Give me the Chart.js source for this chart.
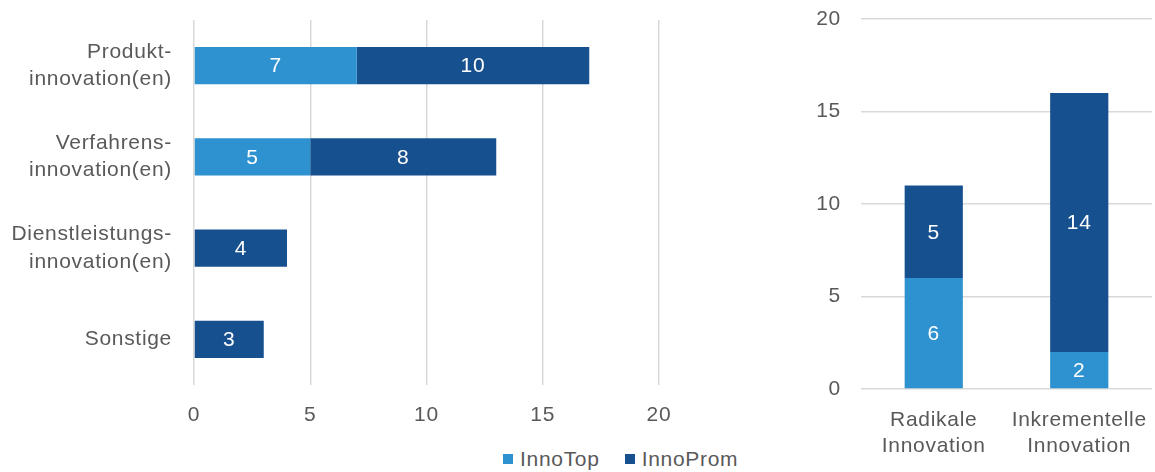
<!DOCTYPE html>
<html>
<head>
<meta charset="utf-8">
<script src="https://cdn.jsdelivr.net/npm/chart.js@4.4.1/dist/chart.umd.min.js"></script>
<style>
  body { margin: 0; background: #fff; width: 1155px; height: 472px; overflow: hidden; position: relative; }
  .box { position: absolute; }
  #legend { position: absolute; top: 447px; left: 503px; display: flex; gap: 25px; font: 21px "Liberation Sans", Arial, sans-serif; letter-spacing: 0.7px; color: #595959; }
  #legend span.item { display: flex; align-items: center; }
  #legend i { display: inline-block; width: 10px; height: 10px; margin-right: 7px; }
</style>
</head>
<body>
<div class="box" style="left:0;top:0;width:690px;height:440px"><canvas id="left"></canvas></div>
<div class="box" style="left:780px;top:0;width:375px;height:472px"><canvas id="right"></canvas></div>
<div id="legend"></div>
<script>
// data
const seriesNames = ['InnoTop', 'InnoProm'];
const seriesColors = ['#2E91D0', '#17508F'];

const typeLabels = [['Produkt-', 'innovation(en)'], ['Verfahrens-', 'innovation(en)'], ['Dienstleistungs-', 'innovation(en)'], 'Sonstige'];
const typeInnoTop = [7, 5, 0, 0];
const typeInnoProm = [10, 8, 4, 3];

const degreeLabels = [['Radikale', 'Innovation'], ['Inkrementelle', 'Innovation']];
const degreeInnoTop = [6, 2];
const degreeInnoProm = [5, 14];

const axisTicks = [0, 5, 10, 15, 20];

const FONT = '"Liberation Sans", Arial, sans-serif';
const TEXT = '#595959';
const GRID = '#d9d9d9';

Chart.defaults.font.family = FONT;
Chart.defaults.font.size = 21;
Chart.defaults.color = TEXT;

// the original font is a bit wider, so space the letters out a little
const spacing = {
  id: 'spacing',
  beforeUpdate(chart) { chart.ctx.letterSpacing = '0.7px'; },
  beforeDraw(chart) { chart.ctx.letterSpacing = '0.7px'; }
};

// white value labels inside the bar segments
const valueLabels = {
  id: 'valueLabels',
  afterDatasetsDraw(chart) {
    const ctx = chart.ctx;
    ctx.save();
    ctx.fillStyle = '#fff';
    ctx.font = '21px ' + FONT;
    ctx.textAlign = 'center';
    ctx.textBaseline = 'middle';
    chart.data.datasets.forEach((ds, i) => {
      chart.getDatasetMeta(i).data.forEach((bar, j) => {
        const v = ds.data[j];
        if (!v) return;
        const p = bar.getCenterPoint();
        ctx.fillText(String(v), p.x, p.y + 1);
      });
    });
    ctx.restore();
  }
};

function datasets(top, prom, pct) {
  return [
    { label: seriesNames[0], data: top, backgroundColor: seriesColors[0], barPercentage: pct, categoryPercentage: 1 },
    { label: seriesNames[1], data: prom, backgroundColor: seriesColors[1], barPercentage: pct, categoryPercentage: 1 }
  ];
}

new Chart(document.getElementById('left'), {
  type: 'bar',
  data: { labels: typeLabels, datasets: datasets(typeInnoTop, typeInnoProm, 0.41) },
  options: {
    indexAxis: 'y',
    responsive: true,
    maintainAspectRatio: false,
    animation: false,
    layout: { padding: { top: 20, right: 31, left: 0, bottom: 0 } },
    plugins: { legend: { display: false }, tooltip: { enabled: false } },
    scales: {
      x: {
        stacked: true, min: 0, max: 20,
        afterBuildTicks: s => { s.ticks = axisTicks.map(v => ({ value: v })); },
        grid: { color: GRID, lineWidth: 1.5, drawTicks: false },
        border: { display: false },
        ticks: { padding: 18 },
        afterFit: s => { s.height = 55; }
      },
      y: {
        stacked: true,
        grid: { display: false, drawTicks: false },
        border: { display: false },
        ticks: { padding: 22, font: { lineHeight: 1.3 } },
        afterFit: s => { s.width = 194; s.paddingTop = 0; s.paddingBottom = 0; }
      }
    }
  },
  plugins: [spacing, valueLabels]
});

new Chart(document.getElementById('right'), {
  type: 'bar',
  data: { labels: degreeLabels, datasets: datasets(degreeInnoTop, degreeInnoProm, 0.4) },
  options: {
    responsive: true,
    maintainAspectRatio: false,
    animation: false,
    layout: { padding: { top: 19, right: 3, left: 0, bottom: 0 } },
    plugins: { legend: { display: false }, tooltip: { enabled: false } },
    scales: {
      x: {
        stacked: true,
        grid: { display: false, drawTicks: false },
        border: { display: false },
        ticks: { padding: 19, font: { lineHeight: 1.2 } },
        afterFit: s => { s.height = 83; s.paddingLeft = 0; s.paddingRight = 0; }
      },
      y: {
        stacked: true, min: 0, max: 20,
        afterBuildTicks: s => { s.ticks = axisTicks.map(v => ({ value: v })); },
        grid: { color: GRID, lineWidth: 1.5, drawTicks: false },
        border: { display: false },
        ticks: { padding: 20 },
        afterFit: s => { s.width = 81; s.paddingTop = 0; s.paddingBottom = 0; }
      }
    }
  },
  plugins: [spacing, valueLabels]
});

// legend built from the series arrays
const legend = document.getElementById('legend');
seriesNames.forEach((name, i) => {
  const item = document.createElement('span');
  item.className = 'item';
  item.innerHTML = '<i style="background:' + seriesColors[i] + '"></i>' + name;
  legend.appendChild(item);
});
</script>
</body>
</html>
